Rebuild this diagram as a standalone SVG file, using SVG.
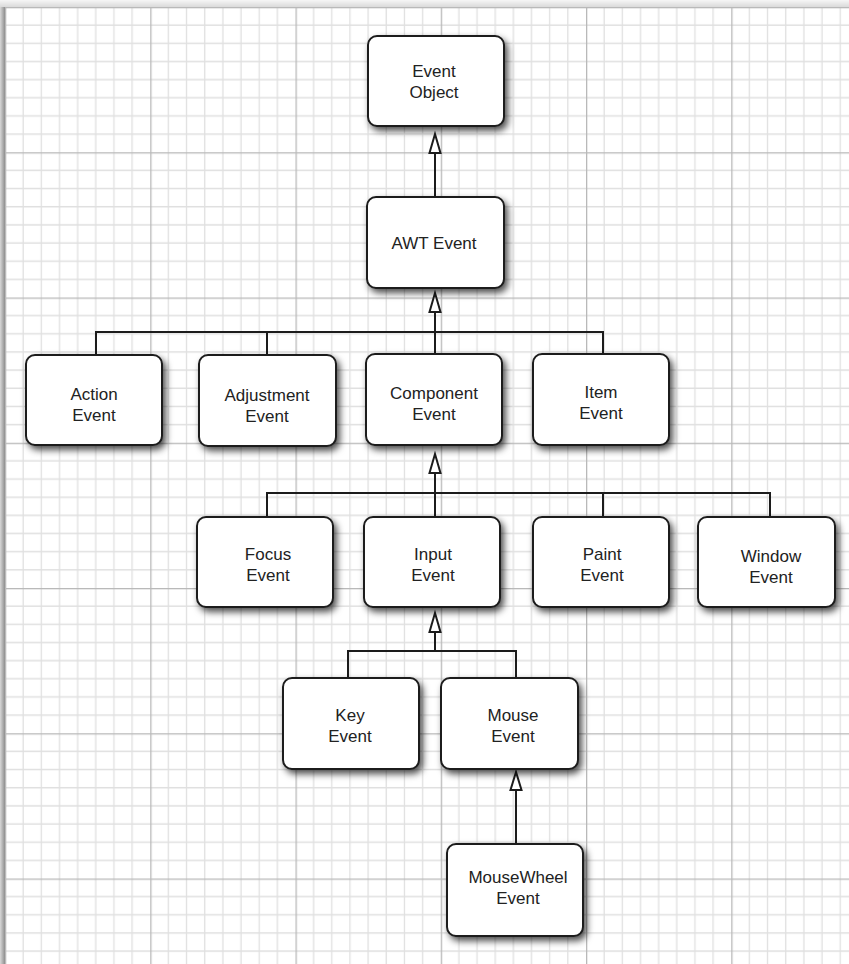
<svg xmlns="http://www.w3.org/2000/svg" width="849" height="964" viewBox="0 0 849 964">
  <style>
    .box { fill: #ffffff; stroke: #1c1c1c; stroke-width: 2; filter: url(#shadow); }
    .lbl { font-family: "Liberation Sans", Arial, sans-serif; font-size: 17px; fill: #222222; text-anchor: middle; }
    .conn { fill: none; stroke: #1c1c1c; stroke-width: 2; }
    .head { fill: #ffffff; stroke: #1c1c1c; stroke-width: 2; stroke-linejoin: miter; }
    .minor { stroke: #e0e0e0; stroke-width: 1.3; fill: none; }
    .major { fill: #b9b9b9; }
  </style>
  <defs>
    <filter id="shadow" x="-20%" y="-20%" width="150%" height="160%">
      <feDropShadow dx="3" dy="4" stdDeviation="3.5" flood-color="#000000" flood-opacity="0.7"/>
    </filter>
    <pattern id="grid" x="5" y="7" width="145.25" height="145.25" patternUnits="userSpaceOnUse">
      <path class="minor" d="M18.16 0V145.25M36.31 0V145.25M54.47 0V145.25M72.63 0V145.25M90.78 0V145.25M108.94 0V145.25M127.09 0V145.25M0 18.16H145.25M0 36.31H145.25M0 54.47H145.25M0 72.63H145.25M0 90.78H145.25M0 108.94H145.25M0 127.09H145.25"/>
      <rect class="major" x="0" y="0" width="1.3" height="145.25"/>
      <rect class="major" x="0" y="0" width="145.25" height="1.3"/>
    </pattern>
    <linearGradient id="topShade" x1="0" y1="0" x2="0" y2="1">
      <stop offset="0" stop-color="#f6f6f6"/>
      <stop offset="1" stop-color="#dadada"/>
    </linearGradient>
    <linearGradient id="leftShade" x1="0" y1="0" x2="1" y2="0">
      <stop offset="0" stop-color="#d8d8d8"/>
      <stop offset="1" stop-color="#8e8e8e"/>
    </linearGradient>
  </defs>

  <g id="background">
    <rect x="0" y="0" width="849" height="964" fill="#ffffff"/>
    <rect x="5" y="7" width="844" height="957" fill="url(#grid)"/>
    <rect x="0" y="0" width="849" height="7" fill="url(#topShade)"/>
    <rect x="0" y="7" width="5" height="957" fill="url(#leftShade)"/>
  </g>

  <g id="connectors">
    <path class="conn" d="M435 197V152"/>
    <polygon class="head" points="435,134 429.5,153 440.5,153"/>
    <path class="conn" d="M435 313V354M96 354V332H603V354M267 355V332"/>
    <polygon class="head" points="435,293 429.5,312 440.5,312"/>
    <path class="conn" d="M435 473V517M267 517V493H770V517M603 517V493"/>
    <polygon class="head" points="435,454 429.5,473 440.5,473"/>
    <path class="conn" d="M435 632V651M348 678V651H516V678"/>
    <polygon class="head" points="435,613 429.5,632 440.5,632"/>
    <path class="conn" d="M516 790V844"/>
    <polygon class="head" points="516,772 510.5,790 521.5,790"/>
  </g>

  <g id="event-object">
    <rect class="box" x="368" y="36" width="136" height="90" rx="9"/>
    <text class="lbl" x="434" y="77">Event</text>
    <text class="lbl" x="434" y="98">Object</text>
  </g>
  <g id="awt-event">
    <rect class="box" x="367" y="197" width="137" height="91" rx="9"/>
    <text class="lbl" x="434" y="249">AWT Event</text>
  </g>

  <g id="action-event">
    <rect class="box" x="26" y="355" width="136" height="90" rx="9"/>
    <text class="lbl" x="94" y="400">Action</text>
    <text class="lbl" x="94" y="421">Event</text>
  </g>
  <g id="adjustment-event">
    <rect class="box" x="199" y="355" width="137" height="91" rx="9"/>
    <text class="lbl" x="267" y="401">Adjustment</text>
    <text class="lbl" x="267" y="422">Event</text>
  </g>
  <g id="component-event">
    <rect class="box" x="366" y="354" width="136" height="91" rx="9"/>
    <text class="lbl" x="434" y="399">Component</text>
    <text class="lbl" x="434" y="420">Event</text>
  </g>
  <g id="item-event">
    <rect class="box" x="533" y="354" width="136" height="91" rx="9"/>
    <text class="lbl" x="601" y="398">Item</text>
    <text class="lbl" x="601" y="419">Event</text>
  </g>

  <g id="focus-event">
    <rect class="box" x="197" y="517" width="136" height="90" rx="9"/>
    <text class="lbl" x="268" y="560">Focus</text>
    <text class="lbl" x="268" y="581">Event</text>
  </g>
  <g id="input-event">
    <rect class="box" x="364" y="517" width="136" height="90" rx="9"/>
    <text class="lbl" x="433" y="560">Input</text>
    <text class="lbl" x="433" y="581">Event</text>
  </g>
  <g id="paint-event">
    <rect class="box" x="533" y="517" width="136" height="90" rx="9"/>
    <text class="lbl" x="602" y="560">Paint</text>
    <text class="lbl" x="602" y="581">Event</text>
  </g>
  <g id="window-event">
    <rect class="box" x="698" y="517" width="137" height="90" rx="9"/>
    <text class="lbl" x="771" y="562">Window</text>
    <text class="lbl" x="771" y="583">Event</text>
  </g>

  <g id="key-event">
    <rect class="box" x="283" y="678" width="136" height="91" rx="9"/>
    <text class="lbl" x="350" y="721">Key</text>
    <text class="lbl" x="350" y="742">Event</text>
  </g>
  <g id="mouse-event">
    <rect class="box" x="441" y="678" width="137" height="91" rx="9"/>
    <text class="lbl" x="513" y="721">Mouse</text>
    <text class="lbl" x="513" y="742">Event</text>
  </g>

  <g id="mousewheel-event">
    <rect class="box" x="447" y="844" width="136" height="92" rx="9"/>
    <text class="lbl" x="518" y="883">MouseWheel</text>
    <text class="lbl" x="518" y="904">Event</text>
  </g>
</svg>
